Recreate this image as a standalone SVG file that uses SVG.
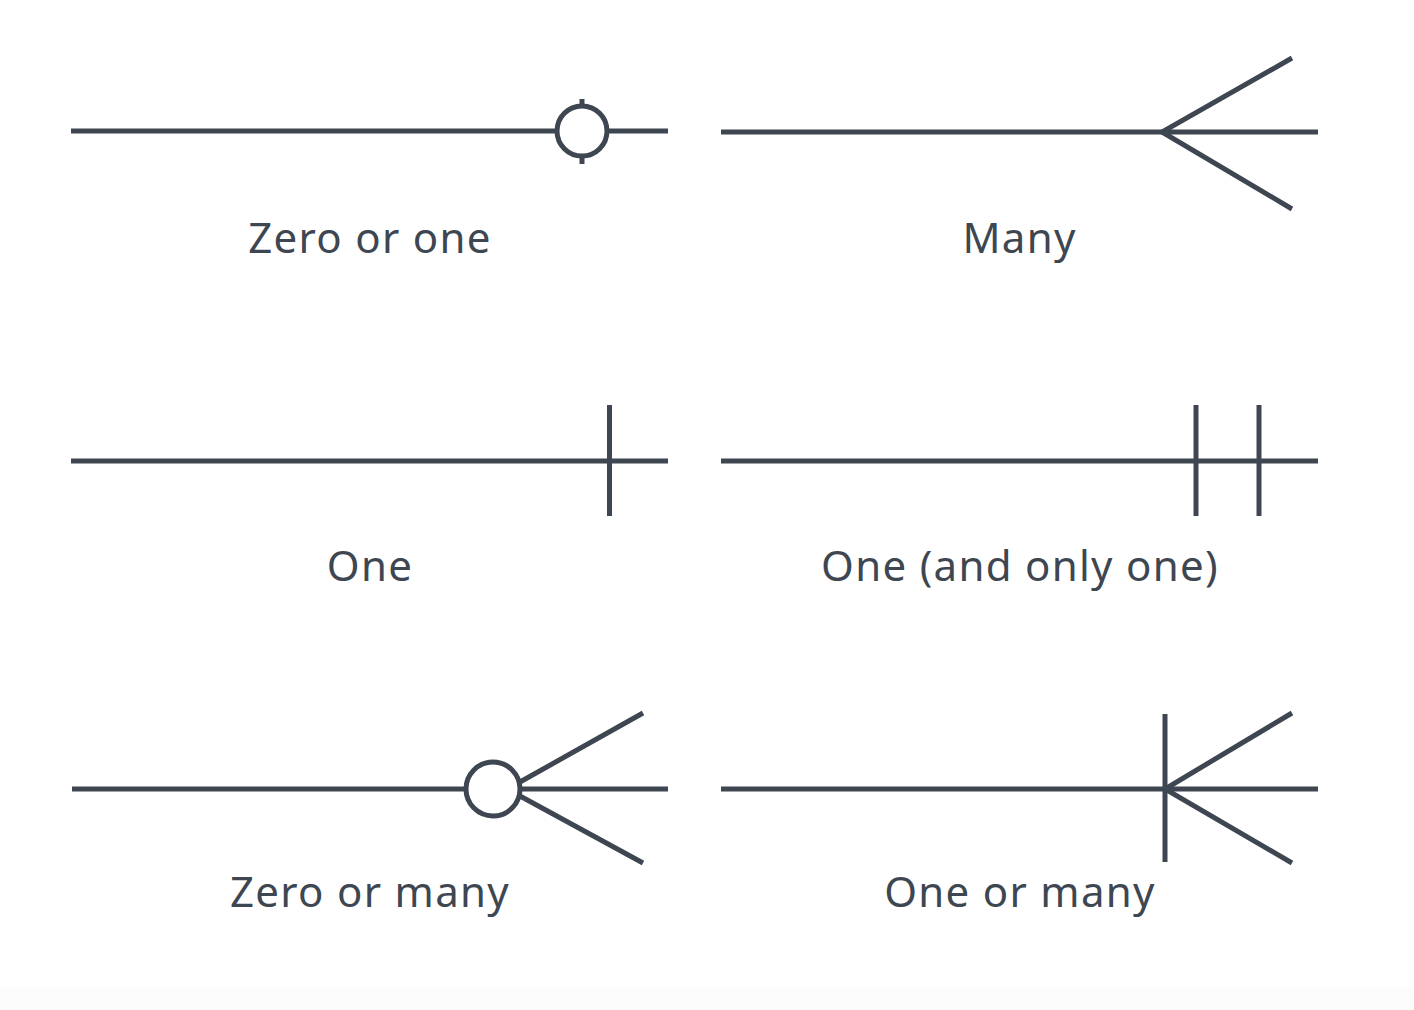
<svg xmlns="http://www.w3.org/2000/svg" width="1414" height="1010" viewBox="0 0 1414 1010">
<style>
.s{stroke:#3e4651;stroke-width:5;fill:none;stroke-linecap:butt}
.c{stroke:#3e4651;stroke-width:5;fill:#ffffff}
.t{font-family:"Noto Sans","Open Sans","Liberation Sans",sans-serif;font-size:42px;letter-spacing:1.3px;fill:#3e4651;text-anchor:middle}
</style>
<rect x="0" y="0" width="1414" height="1010" fill="#ffffff"/>
<rect x="0" y="988" width="1414" height="22" fill="#fcfcfc"/>
<g id="connectors">
<g id="zero-or-one">
<line class="s" x1="71" y1="131" x2="668" y2="131"/>
<line class="s" x1="582" y1="99" x2="582" y2="164"/>
<circle class="c" cx="582" cy="131" r="25"/>
</g>
<g id="many">
<line class="s" x1="721" y1="132" x2="1318" y2="132"/>
<polyline class="s" points="1292,58 1162,132 1292,209"/>
</g>
<g id="one">
<line class="s" x1="71" y1="461" x2="668" y2="461"/>
<line class="s" x1="609.5" y1="405" x2="609.5" y2="516"/>
</g>
<g id="one-and-only-one">
<line class="s" x1="721" y1="461" x2="1318" y2="461"/>
<line class="s" x1="1196" y1="405" x2="1196" y2="516"/>
<line class="s" x1="1259" y1="405" x2="1259" y2="516"/>
</g>
<g id="zero-or-many">
<line class="s" x1="72" y1="789" x2="668" y2="789"/>
<polyline class="s" points="643,713 520,782"/>
<polyline class="s" points="643,863 520,796"/>
<circle class="c" cx="493" cy="789" r="27"/>
</g>
<g id="one-or-many">
<line class="s" x1="721" y1="789" x2="1318" y2="789"/>
<line class="s" x1="1165" y1="714" x2="1165" y2="862"/>
<polyline class="s" points="1292,713 1165,789 1292,863"/>
</g>
</g>
<g id="label-zero-or-one"><text class="t" x="370" y="253">Zero or one</text></g>
<g id="label-many"><text class="t" x="1019.5" y="253">Many</text></g>
<g id="label-one"><text class="t" x="370" y="581">One</text></g>
<g id="label-one-and-only-one"><text class="t" x="1020" y="581">One (and only one)</text></g>
<g id="label-zero-or-many"><text class="t" x="370" y="907">Zero or many</text></g>
<g id="label-one-or-many"><text class="t" x="1020" y="907">One or many</text></g>
</svg>
